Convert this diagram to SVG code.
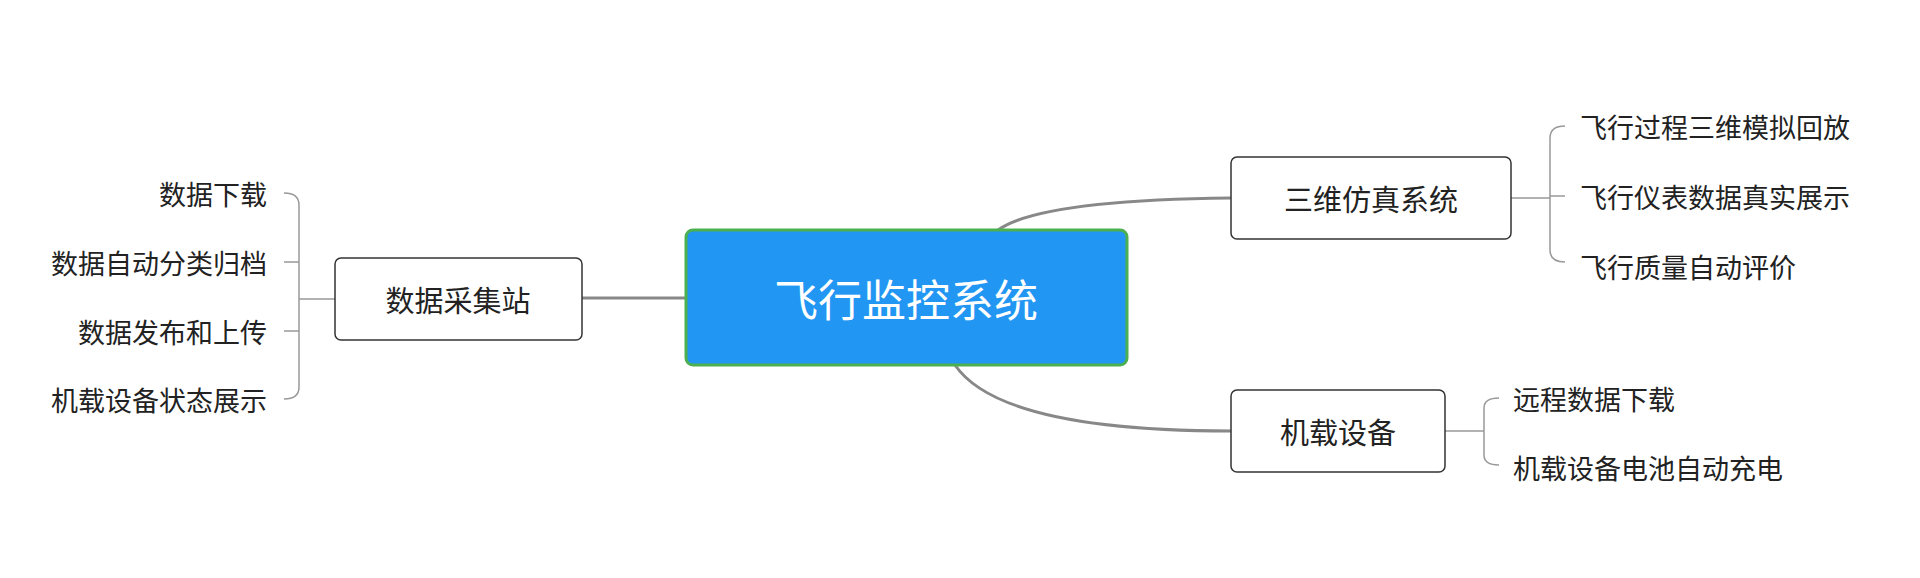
<svg xmlns="http://www.w3.org/2000/svg" width="1920" height="578" viewBox="0 0 1920 578">
<style>
text{font-family:"Noto Sans CJK SC","Noto Sans",sans-serif;fill:#222}
.n{fill:#fff;stroke:#333;stroke-width:1.5}
.lbl{font-size:29px;text-anchor:middle;dominant-baseline:central}
.leaf{font-size:27px;dominant-baseline:central}
.b{fill:none;stroke:#999;stroke-width:1.5}
.m{fill:none;stroke:#888;stroke-width:3}
</style>
<rect width="1920" height="578" fill="#fff"/>
<g id="connectors">
<path class="m" d="M582 298H686"/>
<path class="m" d="M998 230Q1040 200 1231 198"/>
<path class="m" d="M955 365Q1000 431 1231 431"/>
<path class="b" d="M335 299H299M284 193Q299 193 299 205V387Q299 399 284 399M284 262H299M284 331H299"/>
<path class="b" d="M1511 198H1550M1565 126Q1550 126 1550 138V250Q1550 262 1565 262M1550 196H1565"/>
<path class="b" d="M1445 431H1484M1499 398Q1484 398 1484 408V455Q1484 465 1499 465"/>
</g>
<g id="center"><rect x="686" y="230" width="441" height="135" rx="7" fill="#2196F3" stroke="#4CAF50" stroke-width="3"/><text x="906" y="298" font-size="44" text-anchor="middle" dominant-baseline="central" style="fill:#fff">飞行监控系统</text></g>
<g id="n1"><rect class="n" x="335" y="258" width="247" height="82" rx="6"/><text class="lbl" x="458" y="299">数据采集站</text></g>
<g id="n2"><rect class="n" x="1231" y="157" width="280" height="82" rx="6"/><text class="lbl" x="1371" y="198">三维仿真系统</text></g>
<g id="n3"><rect class="n" x="1231" y="390" width="214" height="82" rx="6"/><text class="lbl" x="1338" y="431">机载设备</text></g>
<g id="leaves-left" text-anchor="end">
<text class="leaf" x="267" y="193" text-anchor="end">数据下载</text>
<text class="leaf" x="267" y="262" text-anchor="end">数据自动分类归档</text>
<text class="leaf" x="267" y="331" text-anchor="end">数据发布和上传</text>
<text class="leaf" x="267" y="399" text-anchor="end">机载设备状态展示</text>
</g>
<g id="leaves-top">
<text class="leaf" x="1580" y="126">飞行过程三维模拟回放</text>
<text class="leaf" x="1580" y="196">飞行仪表数据真实展示</text>
<text class="leaf" x="1580" y="266">飞行质量自动评价</text>
</g>
<g id="leaves-bottom">
<text class="leaf" x="1513" y="398">远程数据下载</text>
<text class="leaf" x="1513" y="467">机载设备电池自动充电</text>
</g>
</svg>
